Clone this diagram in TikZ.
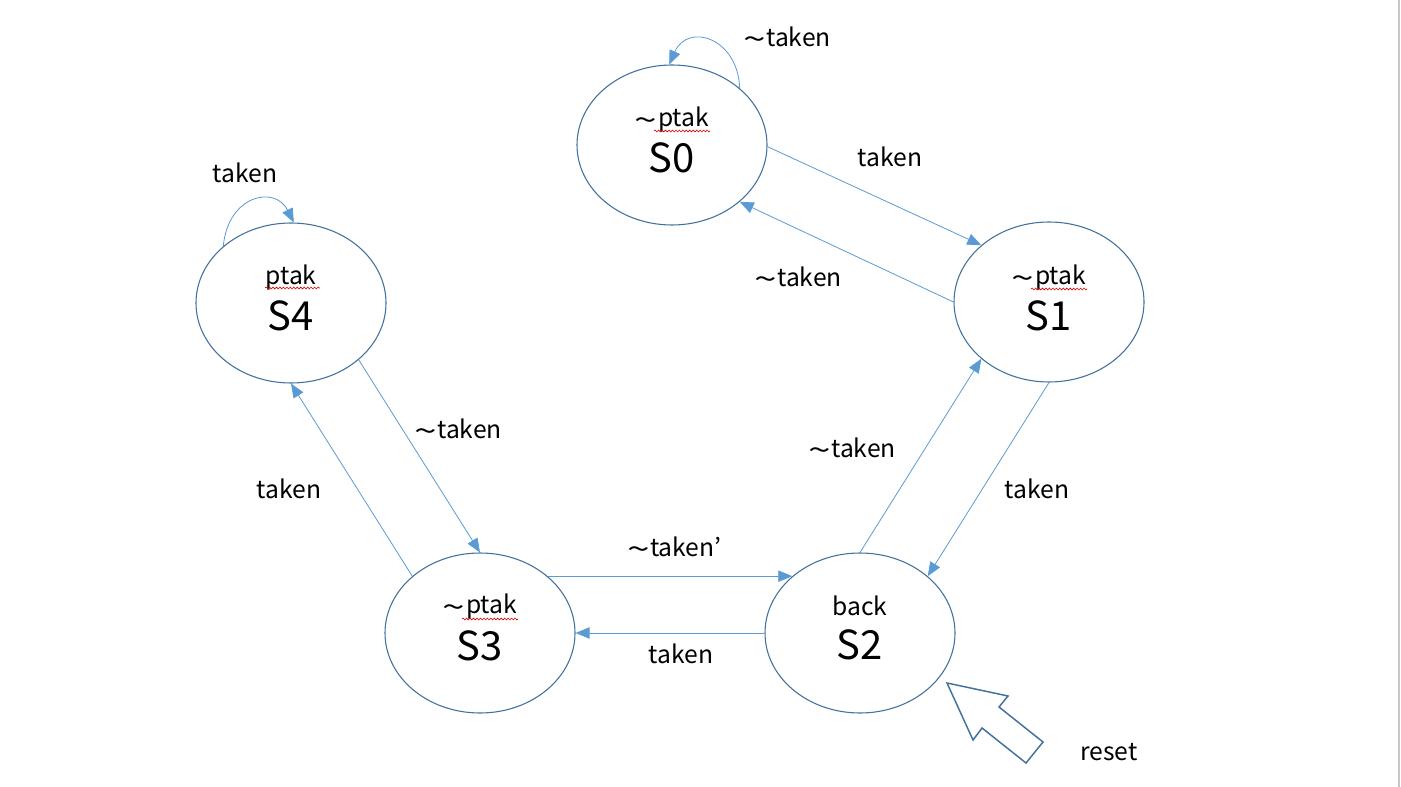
\documentclass[tikz,border=0pt]{standalone}
\usepackage{fontspec}
\usepackage{graphicx}
\setmainfont{Noto Sans CJK JP}
\usetikzlibrary{shapes.geometric,arrows.meta,decorations.pathmorphing}
\definecolor{stateblue}{HTML}{41719C}
\definecolor{edgeblue}{HTML}{5B9BD5}
\definecolor{rulegray}{HTML}{C8C8C8}
\tikzset{
  statebox/.style={draw=stateblue, line width=0.8pt, ellipse, minimum width=142.5pt, minimum height=120pt, inner sep=0pt},
  tr/.style={draw=edgeblue, line width=0.6pt, -{Triangle[length=10.5pt,width=8.5pt]}},
  elabel/.style={font=\fontsize{18.5}{20}\selectfont, inner sep=0pt},
  outlabel/.style={font=\fontsize{18.5}{20}\selectfont, inner sep=0pt},
  bigname/.style={font=\fontsize{30}{32}\selectfont, inner sep=0pt},
  squig/.style={draw=red!85!black, line width=0.45pt, decorate, decoration={snake, amplitude=0.7pt, segment length=2.6pt}},
}
\newcommand{\tl}{\raisebox{-0.14em}{\scalebox{1.65}[1.15]{\textasciitilde}}\kern0.02em}
\begin{document}
\begin{tikzpicture}[x=0.75pt,y=-0.75pt]
\useasboundingbox (0,0) rectangle (1401,787);
\fill[white] (0,0) rectangle (1401,787);
\draw[rulegray, line width=1.5pt] (1398.5,0) -- (1398.5,787);

% states
\node[statebox] (S0) at (672,145) {};
\node[statebox] (S1) at (1049,302) {};
\node[statebox] (S4) at (291,303) {};
\node[statebox] (S3) at (480,633) {};
\node[statebox] (S2) at (860,633) {};

% state texts
\node[elabel] (t0) at (672,120) {\tl ptak};
\node[bigname] (n0) at (672,158) {S0};
\node[elabel] (t1) at (1049,278) {\tl ptak};
\node[bigname] (n1) at (1049,316) {S1};
\node[elabel] (t4) at (291,278) {ptak};
\node[bigname] (n4) at (291,316) {S4};
\node[elabel] (t3) at (480,607) {\tl ptak};
\node[bigname] (n3) at (480,646) {S3};
\node[elabel] (t2) at (860,606) {back};
\node[bigname] (n2) at (860,645) {S2};

% spell-check squiggles
\draw[squig] (654,131) -- (710,131);
\draw[squig] (1031,289) -- (1087,289);
\draw[squig] (265,288) -- (320,288);
\draw[squig] (462,619) -- (518,619);

% transitions
\draw[tr] (S0.-1) -- (S1.140);
\draw[tr] (S1.180) -- (S0.-40);
\draw[tr] (S1.-90) -- (S2.40);
\draw[tr] (S2.90) -- (S1.-140);
\draw[tr] (S3.40) -- (S2.140);
\draw[tr] (S2.180) -- (S3.0);
\draw[tr] (S4.-40) -- (S3.90);
\draw[tr] (S3.140) -- (S4.-90);
\draw[tr] (S0.40) .. controls (738,38) and (688,22) .. (S0.92);
\draw[tr] (S4.140) .. controls (228,195) and (275,185) .. (S4.88);

% transition labels
\node[outlabel] (l00) at (787,38) {\tl taken};
\node[outlabel] (l01) at (890,157) {taken};
\node[outlabel] (l10) at (798,278) {\tl taken};
\node[outlabel] (l21) at (852,449) {\tl taken};
\node[outlabel] (l12) at (1037,489) {taken};
\node[outlabel] (l32) at (674,548) {\tl taken’};
\node[outlabel] (l23) at (681,654) {taken};
\node[outlabel] (l43) at (458,430) {\tl taken};
\node[outlabel] (l34) at (289,489) {taken};
\node[outlabel] (l44) at (245,173) {taken};

% reset block arrow
\draw[stateblue, line width=1.1pt, fill=white, line join=miter]
  (947,683) -- (1008,696) -- (999,707) -- (1043,742) -- (1026,763) -- (982,728) -- (973,740) -- cycle;
\node[outlabel] (rst) at (1109,752) {reset};
\end{tikzpicture}
\end{document}
